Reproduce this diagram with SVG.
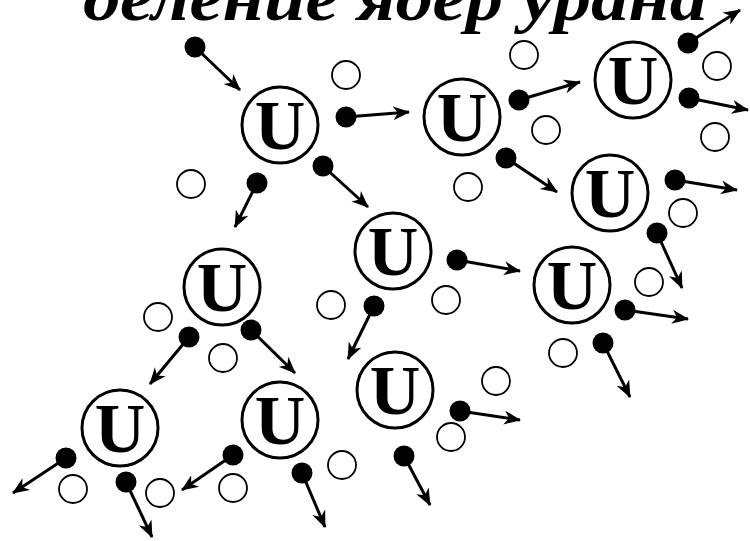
<svg xmlns="http://www.w3.org/2000/svg" width="750" height="541" viewBox="0 0 750 541">
<style>
.nuc{fill:#fff;stroke:#000;stroke-width:3}
.u{font-family:"Liberation Serif","Times New Roman",serif;font-weight:bold;font-size:70px;text-anchor:middle;fill:#000}
.n{fill:#000}
.g{fill:#fff;stroke:#000;stroke-width:1.8}
.a{stroke:#000;stroke-width:3;fill:none;marker-end:url(#ah)}
.title{font-family:"Liberation Serif","Times New Roman",serif;font-weight:bold;font-style:italic;font-size:66px;fill:#000}
</style>
<defs>
<marker id="ah" markerUnits="userSpaceOnUse" markerWidth="18" markerHeight="16" refX="16" refY="8" orient="auto">
<path d="M0,1 L17,8 L0,15 L5,8 z" fill="#000"/>
</marker>
</defs>
<rect width="750" height="541" fill="#fff"/>
<text class="title" x="83" y="20" textLength="624" lengthAdjust="spacingAndGlyphs">деление ядер урана</text>

<g id="connectors">
<line class="a" x1="195" y1="47" x2="240" y2="90"/>
<line class="a" x1="346" y1="117" x2="409" y2="112"/>
<line class="a" x1="257" y1="183" x2="235" y2="227"/>
<line class="a" x1="323" y1="166" x2="368" y2="207"/>
<line class="a" x1="519" y1="100" x2="580" y2="82"/>
<line class="a" x1="506" y1="158" x2="557" y2="192"/>
<line class="a" x1="688" y1="43" x2="740" y2="10"/>
<line class="a" x1="689" y1="98" x2="748" y2="110"/>
<line class="a" x1="675" y1="180" x2="737" y2="190"/>
<line class="a" x1="657" y1="233" x2="682" y2="288"/>
<line class="a" x1="457" y1="260" x2="520" y2="271"/>
<line class="a" x1="374" y1="306" x2="348" y2="359"/>
<line class="a" x1="625" y1="310" x2="688" y2="319"/>
<line class="a" x1="603" y1="343" x2="630" y2="397"/>
<line class="a" x1="460" y1="411" x2="520" y2="420"/>
<line class="a" x1="404" y1="456" x2="430" y2="505"/>
<line class="a" x1="189" y1="337" x2="150" y2="384"/>
<line class="a" x1="251" y1="330" x2="295" y2="373"/>
<line class="a" x1="66" y1="458" x2="13" y2="493"/>
<line class="a" x1="126" y1="482" x2="152" y2="537"/>
<line class="a" x1="233" y1="455" x2="182" y2="490"/>
<line class="a" x1="302" y1="473" x2="325" y2="527"/>
</g>

<g id="nucleus1"><circle class="nuc" cx="280" cy="125" r="38"/><text class="u" x="280" y="149">U</text></g>
<g id="nucleus2"><circle class="nuc" cx="462" cy="117" r="38"/><text class="u" x="462" y="141">U</text></g>
<g id="nucleus3"><circle class="nuc" cx="633" cy="80" r="38"/><text class="u" x="633" y="104">U</text></g>
<g id="nucleus4"><circle class="nuc" cx="610" cy="193" r="38"/><text class="u" x="610" y="217">U</text></g>
<g id="nucleus5"><circle class="nuc" cx="393" cy="251" r="38"/><text class="u" x="393" y="275">U</text></g>
<g id="nucleus6"><circle class="nuc" cx="222" cy="287" r="38"/><text class="u" x="222" y="311">U</text></g>
<g id="nucleus7"><circle class="nuc" cx="572" cy="285" r="38"/><text class="u" x="572" y="309">U</text></g>
<g id="nucleus8"><circle class="nuc" cx="395" cy="390" r="38"/><text class="u" x="395" y="414">U</text></g>
<g id="nucleus9"><circle class="nuc" cx="120" cy="428" r="38"/><text class="u" x="120" y="452">U</text></g>
<g id="nucleus10"><circle class="nuc" cx="280" cy="420" r="38"/><text class="u" x="280" y="444">U</text></g>

<g id="neutrons">
<circle class="n" cx="195" cy="47" r="10.5"/>
<circle class="n" cx="346" cy="117" r="10.5"/>
<circle class="n" cx="257" cy="183" r="10.5"/>
<circle class="n" cx="323" cy="166" r="10.5"/>
<circle class="n" cx="519" cy="100" r="10.5"/>
<circle class="n" cx="506" cy="158" r="10.5"/>
<circle class="n" cx="688" cy="43" r="10.5"/>
<circle class="n" cx="689" cy="98" r="10.5"/>
<circle class="n" cx="675" cy="180" r="10.5"/>
<circle class="n" cx="657" cy="233" r="10.5"/>
<circle class="n" cx="457" cy="260" r="10.5"/>
<circle class="n" cx="374" cy="306" r="10.5"/>
<circle class="n" cx="625" cy="310" r="10.5"/>
<circle class="n" cx="603" cy="343" r="10.5"/>
<circle class="n" cx="460" cy="411" r="10.5"/>
<circle class="n" cx="404" cy="456" r="10.5"/>
<circle class="n" cx="189" cy="337" r="10.5"/>
<circle class="n" cx="251" cy="330" r="10.5"/>
<circle class="n" cx="66" cy="458" r="10.5"/>
<circle class="n" cx="126" cy="482" r="10.5"/>
<circle class="n" cx="233" cy="455" r="10.5"/>
<circle class="n" cx="302" cy="473" r="10.5"/>
</g>

<g id="fragments">
<circle class="g" cx="346" cy="75" r="14"/>
<circle class="g" cx="191" cy="184" r="14"/>
<circle class="g" cx="524" cy="55" r="14"/>
<circle class="g" cx="546" cy="130" r="14"/>
<circle class="g" cx="468" cy="187" r="14"/>
<circle class="g" cx="717" cy="66" r="14"/>
<circle class="g" cx="715" cy="137" r="14"/>
<circle class="g" cx="683" cy="213" r="14"/>
<circle class="g" cx="331" cy="305" r="14"/>
<circle class="g" cx="446" cy="300" r="14"/>
<circle class="g" cx="649" cy="282" r="14"/>
<circle class="g" cx="563" cy="353" r="14"/>
<circle class="g" cx="496" cy="381" r="14"/>
<circle class="g" cx="451" cy="437" r="14"/>
<circle class="g" cx="158" cy="317" r="14"/>
<circle class="g" cx="223" cy="358" r="14"/>
<circle class="g" cx="73" cy="489" r="14"/>
<circle class="g" cx="160" cy="493" r="14"/>
<circle class="g" cx="233" cy="488" r="14"/>
<circle class="g" cx="342" cy="465" r="14"/>
</g>
</svg>
